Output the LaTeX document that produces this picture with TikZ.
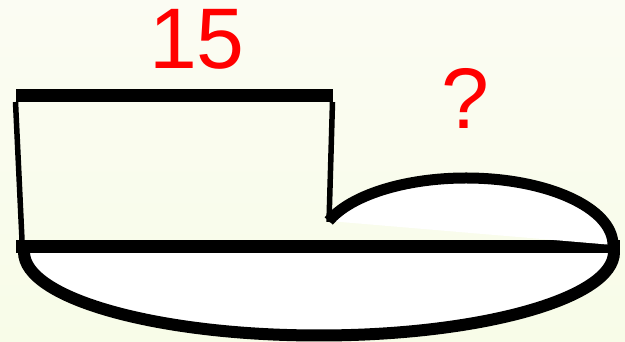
\documentclass[tikz,border=0pt]{standalone}
\usepackage{fontspec}
\setmainfont{Liberation Sans}
\definecolor{paper}{RGB}{251,252,243}
\definecolor{paperlow}{RGB}{248,252,232}
\begin{document}
\begin{tikzpicture}[x=1pt,y=1pt]
    \useasboundingbox (0,0) rectangle (625,342);
    \path [top color=paper, bottom color=paperlow] (0,0) rectangle (625,342);

    % lower half ellipse and the long bar
    \path [fill=white] (24,90) arc (180:360:295 and 83.5) -- cycle;
    \draw [line width=12] (24,90) arc (180:360:295 and 83.5);
    \draw [line width=13] (16,95.5)--(620,95.5);

    % upper half ellipse
    \path [fill=white] (613,97) arc (0:159:147 and 67) -- (613,97);
    \draw [line width=11] (613,97) arc (0:159:147 and 67);

    % the 15 part
    \draw [line width=13] (16,246.5)--(333,246.5);
    \draw [line width=5.5] (15.5,240)--(22,102);
    \draw [line width=5.5] (332.5,240)--(329,120);

    \node [color=red, inner sep=0, font=\fontsize{86}{90}\selectfont] (fifteen) at (197,303) {15};
    \node [color=red, inner sep=0, font=\fontsize{86}{90}\selectfont] (unknown) at (465,244) {?};
\end{tikzpicture}
\end{document}
